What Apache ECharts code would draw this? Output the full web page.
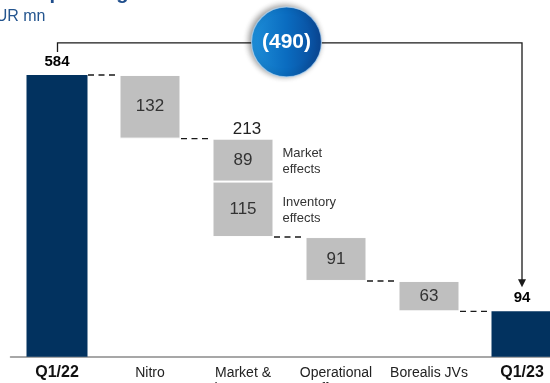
<!DOCTYPE html>
<html>
<head>
<meta charset="utf-8">
<script src="https://cdn.jsdelivr.net/npm/echarts@6/dist/echarts.min.js"></script>
<style>
  html, body { margin: 0; padding: 0; background: #fff; overflow: hidden; }
  #chart { width: 550px; height: 383px; }
</style>
</head>
<body>
<div id="chart"></div>
<script>
// ---------- data ----------
const categories = ['Q1/22', 'Nitro', 'Market &\ninventory', 'Operational\neffects²', 'Borealis JVs', 'Q1/23'];
const totals = [584, null, null, null, null, 94];
const upperDrops = [null, 132, 89, 91, 63, null];     // labelled step blocks
const lowerDrops = [null, null, 115, null, null, null]; // inventory block under market
const marketInventoryLabel = '213';
const stepNotes = ['Market\neffects', 'Inventory\neffects'];
const totalChangeLabel = '(490)';
const unitLabel = 'EUR mn';
const titleText = 'Operating result';

// ---------- derived ----------
const base = [];
const levels = [totals[0]];
let level = totals[0];
for (let i = 0; i < categories.length; i++) {
  if (upperDrops[i] == null && lowerDrops[i] == null) { base.push(0); continue; }
  level -= (upperDrops[i] || 0) + (lowerDrops[i] || 0);
  base.push(level);
  levels.push(level);
}
const dash = v => (v == null ? '-' : v);

const FONT = '"Liberation Sans", Arial, sans-serif';
const NAVY = '#02325F';
const GREY = '#BFBFBF';
const BAR_W = 61;

const chart = echarts.init(document.getElementById('chart'), null, { renderer: 'canvas' });

const option = {
  animation: false,
  textStyle: { fontFamily: FONT },
  grid: { left: 10.5, width: 558, top: 19, height: 337.7, containLabel: false, outerBoundsMode: 'none' },
  xAxis: {
    type: 'category',
    data: categories,
    axisTick: { show: false },
    axisLine: { lineStyle: { color: '#8a8a8a', width: 1.5 } },
    axisLabel: {
      interval: 0,
      margin: 8,
      lineHeight: 16,
      hideOverlap: false,
      formatter: (v, i) => {
        const tag = (i === 0 || i === categories.length - 1) ? 'b' : 'n';
        return v.split('\n').map(s => '{' + tag + '|' + s + '}').join('\n');
      },
      rich: {
        b: { fontFamily: FONT, fontWeight: 'bold', fontSize: 16, color: '#111', lineHeight: 16 },
        n: { fontFamily: FONT, fontSize: 14, color: '#222', lineHeight: 16 }
      }
    }
  },
  yAxis: { type: 'value', min: 0, max: 700, show: false, splitLine: { show: false } },
  series: [
    {
      name: 'base', type: 'bar', stack: 'w', barWidth: BAR_W,
      itemStyle: { color: 'transparent' }, data: base, silent: true
    },
    {
      name: 'lower', type: 'bar', stack: 'w', barWidth: BAR_W,
      itemStyle: { color: GREY, borderColor: '#fff', borderWidth: 1 },
      label: { show: true, position: 'inside', fontFamily: FONT, fontSize: 17, color: '#333' },
      data: lowerDrops.map(dash)
    },
    {
      name: 'upper', type: 'bar', stack: 'w', barWidth: BAR_W,
      itemStyle: { color: GREY, borderColor: '#fff', borderWidth: 1 },
      label: { show: true, position: 'inside', fontFamily: FONT, fontSize: 17, color: '#333' },
      data: upperDrops.map(dash)
    },
    {
      name: 'totals', type: 'bar', stack: 'w', barWidth: 62,
      itemStyle: { color: NAVY },
      label: { show: true, position: 'top', distance: 6, fontFamily: FONT, fontWeight: 'bold', fontSize: 15, color: '#000' },
      data: totals.map(dash)
    },
    {
      name: 'connectors', type: 'custom', clip: false, z: 5,
      encode: { x: 0, y: 1 },
      data: levels.map((v, i) => [i, v]).filter(d => d[0] < categories.length - 1),
      renderItem: (params, api) => {
        const i = api.value(0), v = api.value(1);
        const a = api.coord([i, v]);
        const b = api.coord([i + 1, v]);
        return {
          type: 'line',
          shape: { x1: a[0] + BAR_W / 2 + 0.5, y1: a[1], x2: b[0] - BAR_W / 2, y2: b[1] },
          style: { stroke: '#1a1a1a', lineWidth: 1.4, lineDash: [6, 4.5] }
        };
      }
    },
    {
      name: 'notes', type: 'custom', clip: false, z: 6,
      encode: { x: 0, y: 1 },
      data: [[2, levels[1], levels[1] - upperDrops[2], levels[2]]],
      renderItem: (params, api) => {
        const i = api.value(0);
        const top = api.coord([i, api.value(1)]);
        const mid = api.coord([i, api.value(2)]);
        const bot = api.coord([i, api.value(3)]);
        const right = top[0] + BAR_W / 2 + 9;
        return {
          type: 'group',
          children: [
            { type: 'text', style: { text: marketInventoryLabel, x: top[0] + 4, y: top[1] - 9, align: 'center', verticalAlign: 'middle', font: '17px ' + FONT, fill: '#222' } },
            { type: 'text', style: { text: stepNotes[0], x: right, y: (top[1] + mid[1]) / 2 + 1, align: 'left', verticalAlign: 'middle', font: '13px ' + FONT, lineHeight: 16, fill: '#333' } },
            { type: 'text', style: { text: stepNotes[1], x: right, y: (mid[1] + bot[1]) / 2 + 1, align: 'left', verticalAlign: 'middle', font: '13px ' + FONT, lineHeight: 16, fill: '#333' } }
          ]
        };
      }
    },
    {
      name: 'bracket', type: 'custom', clip: false, z: 7,
      encode: { x: 0, y: 1 },
      data: [[0, totals[0], categories.length - 1, totals[categories.length - 1]]],
      renderItem: (params, api) => {
        const p0 = api.coord([api.value(0), api.value(1)]);
        const p5 = api.coord([api.value(2), api.value(3)]);
        const yTop = p0[1] - 32;
        const leftBottom = p0[1] - 23;
        const tip = p5[1] - 24;
        const cx = (p0[0] + p5[0]) / 2 - 3;
        const cy = yTop - 1;
        return {
          type: 'group',
          children: [
            { type: 'polyline', shape: { points: [[p0[0] + 0.5, leftBottom], [p0[0] + 0.5, yTop], [p5[0], yTop], [p5[0], tip - 6]] },
              style: { stroke: '#1a1a1a', lineWidth: 1.3, fill: null } },
            { type: 'polygon', shape: { points: [[p5[0] - 4, tip - 8], [p5[0] + 4, tip - 8], [p5[0], tip]] },
              style: { fill: '#1a1a1a' } },
            { type: 'circle', shape: { cx: cx, cy: cy, r: 35 },
              style: {
                fill: new echarts.graphic.LinearGradient(0, 0, 1, 0, [
                  { offset: 0, color: '#1E8FD9' },
                  { offset: 0.5, color: '#0A6CC0' },
                  { offset: 1, color: '#0A4796' }
                ]),
                stroke: 'rgba(180,215,245,0.7)', lineWidth: 1.2,
                shadowColor: 'rgba(0,0,0,0.45)', shadowBlur: 6, shadowOffsetX: -2, shadowOffsetY: -1
              } },
            { type: 'text', style: { text: totalChangeLabel, x: cx, y: cy, align: 'center', verticalAlign: 'middle', font: 'bold 21px ' + FONT, fill: '#fff' } }
          ]
        };
      }
    }
  ],
  graphic: [
    { type: 'text', left: 34, top: -17, style: { text: titleText, font: 'bold 20px ' + FONT, fill: '#1F4E8C' } },
    { type: 'text', left: -15, top: 9, style: { text: unitLabel, font: '16px ' + FONT, fill: '#24558F' } }
  ]
};

chart.setOption(option);
</script>
</body>
</html>
